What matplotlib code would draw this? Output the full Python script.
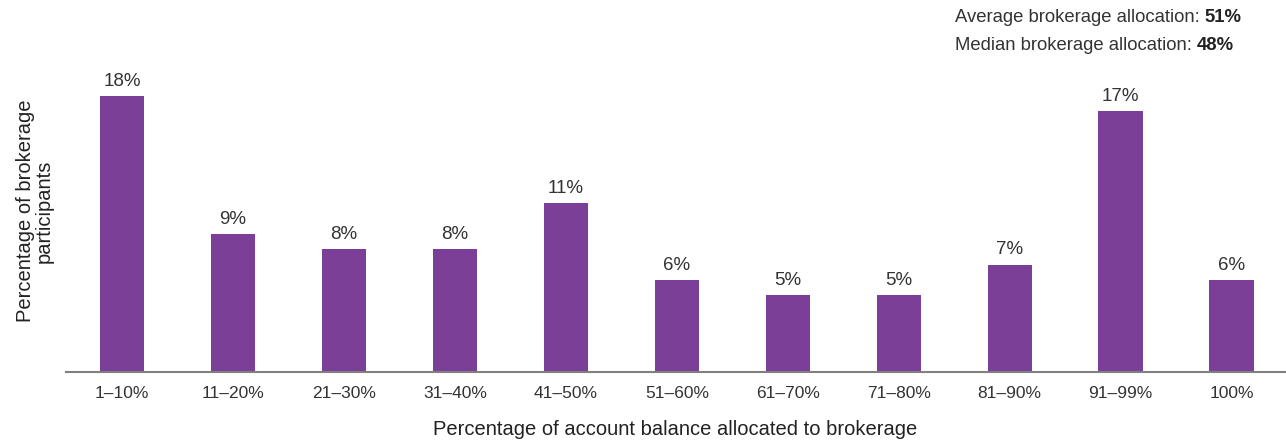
import matplotlib
matplotlib.use("Agg")
import matplotlib.pyplot as plt

plt.rcParams["font.family"] = ["Liberation Sans", "DejaVu Sans"]

categories = ["1–10%", "11–20%", "21–30%", "31–40%", "41–50%", "51–60%",
              "61–70%", "71–80%", "81–90%", "91–99%", "100%"]
shares = [18, 9, 8, 8, 11, 6, 5, 5, 7, 17, 6]
summary_labels = ["Average brokerage allocation: ", "Median brokerage allocation: "]
summary_values = ["51%", "48%"]

W, H = 1286, 444
fig = plt.figure(figsize=(W / 100, H / 100), dpi=100)
ax = fig.add_axes([66 / W, 72 / H, 1 - 66 / W, 307 / H])

x = range(len(categories))
ax.bar(x, shares, width=0.4, color="#7B3F98")
for xi, v in zip(x, shares):
    ax.text(xi, v + 0.4, f"{v}%", ha="center", va="bottom", fontsize=13.5, color="#333333")

ax.set_xlim(-0.505, 10.49)
ax.set_ylim(0, 20)
ax.set_xticks(list(x))
ax.set_xticklabels(categories, fontsize=12.5, color="#333333")
ax.tick_params(axis="x", length=0, pad=10)
ax.set_yticks([])
for s in ["top", "right", "left"]:
    ax.spines[s].set_visible(False)
ax.spines["bottom"].set_color("#808080")
ax.spines["bottom"].set_linewidth(1.5)

fig.text(675 / W, 1 - 429 / H, "Percentage of account balance allocated to brokerage",
         ha="center", va="center", fontsize=14.5, color="#222222")
fig.text(35 / W, 1 - 211 / H, "Percentage of brokerage\nparticipants", rotation=90,
         ha="center", va="center", fontsize=14.5, color="#222222", linespacing=1.0)

fig.canvas.draw()
renderer = fig.canvas.get_renderer()
for i, (lab, val) in enumerate(zip(summary_labels, summary_values)):
    ypos = 1 - (17 + 28 * i) / H
    t = fig.text(955 / W, ypos, lab, ha="left", va="center", fontsize=13.3, color="#333333")
    bb = t.get_window_extent(renderer)
    fig.text(bb.x1 / W, ypos, val, ha="left", va="center", fontsize=13.3,
             fontweight="bold", color="#222222")

fig.savefig("out.png", dpi=100)
